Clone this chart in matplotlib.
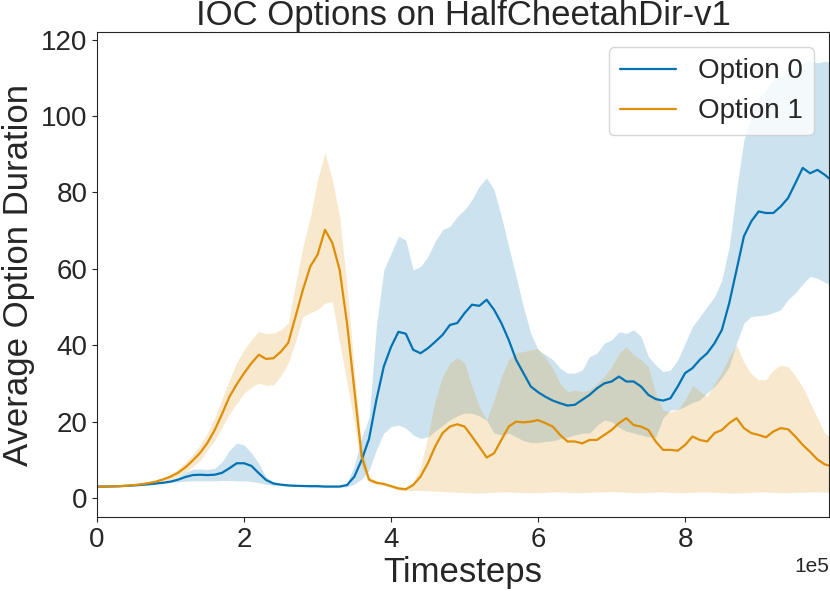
import numpy as np
import matplotlib
matplotlib.use("Agg")
import matplotlib.pyplot as plt
import seaborn as sns

# timesteps in units of 1e5, one sample every 1e4 steps
steps = np.arange(101) / 10.0

opt0_mean = [3.0, 3.0, 3.05, 3.1, 3.2, 3.3, 3.45, 3.6, 3.8, 4.0,
             4.3, 4.8, 5.5, 6.0, 6.1, 6.0, 6.1, 6.6, 7.8, 9.1,
             9.1, 8.4, 6.5, 4.7, 3.8, 3.5, 3.3, 3.2, 3.15, 3.1,
             3.1, 3.0, 3.0, 3.0, 3.4, 5.6, 10.0, 15.5, 25.7, 34.4,
             39.6, 43.5, 43.0, 38.8, 37.9, 39.2, 40.9, 42.7, 45.3, 45.8,
             48.4, 50.6, 50.3, 51.9, 49.3, 45.8, 41.4, 36.2, 32.7, 29.2,
             27.7, 26.5, 25.5, 24.8, 24.2, 24.4, 25.7, 27.0, 28.7, 30.0,
             30.5, 31.8, 30.5, 30.5, 29.2, 27.0, 25.9, 25.5, 26.1, 29.2,
             32.7, 34.0, 36.2, 37.9, 40.5, 44.0, 51.0, 59.7, 68.5, 72.4,
             75.0, 74.6, 74.6, 76.3, 78.5, 82.4, 86.4, 85.0, 85.9, 84.6,
             83.0]
opt0_low = [2.9, 2.9, 2.95, 3.0, 3.1, 3.2, 3.35, 3.5, 3.7, 3.9,
            4.0, 4.2, 4.4, 4.5, 4.5, 4.5, 4.5, 4.6, 4.6, 4.5,
            4.5, 4.3, 4.0, 3.6, 3.3, 3.2, 3.1, 3.0, 3.0, 2.95,
            2.9, 2.85, 2.85, 2.85, 2.9, 3.6, 5.0, 7.3, 12.6, 17.0,
            18.7, 19.1, 18.3, 16.5, 15.6, 16.0, 17.5, 19.0, 20.5, 21.5,
            22.2, 22.2, 21.5, 20.4, 17.0, 16.5, 17.0, 16.0, 15.0, 14.5,
            14.5, 14.8, 15.0, 15.5, 16.0, 16.5, 17.0, 17.0, 19.0, 20.4,
            20.0, 18.5, 17.5, 17.0, 16.5, 16.0, 16.0, 21.0, 23.0, 23.1,
            24.0, 25.0, 25.7, 27.5, 29.2, 31.5, 34.4, 40.5, 45.8, 47.5,
            47.7, 47.9, 48.5, 49.3, 51.9, 53.7, 56.0, 58.0, 57.5, 56.5,
            55.4]
opt0_high = [3.1, 3.1, 3.15, 3.2, 3.3, 3.4, 3.55, 3.7, 3.9, 4.2,
             4.6, 5.5, 6.8, 7.5, 7.6, 7.5, 7.8, 9.5, 12.5, 14.4,
             13.9, 11.8, 9.0, 5.5, 4.2, 3.8, 3.5, 3.4, 3.3, 3.25,
             3.2, 3.1, 3.1, 3.15, 4.0, 8.5, 16.0, 21.0, 45.0, 59.7,
             64.1, 68.5, 67.5, 59.7, 60.6, 63.2, 67.2, 70.2, 71.1, 73.7,
             75.5, 78.1, 81.6, 83.8, 80.7, 73.7, 65.8, 58.0, 50.1, 43.1,
             38.8, 37.5, 36.2, 34.0, 32.7, 32.7, 33.5, 37.0, 37.9, 40.5,
             41.4, 43.5, 43.1, 44.0, 42.3, 37.0, 34.8, 33.1, 33.5, 36.2,
             40.5, 44.9, 47.5, 50.1, 52.7, 57.1, 65.8, 80.7, 93.8, 99.9,
             104.3, 106.9, 109.5, 110.0, 111.3, 112.1, 113.9, 114.3, 113.9, 114.3,
             114.0]

opt1_mean = [3.0, 3.0, 3.05, 3.1, 3.2, 3.4, 3.6, 3.9, 4.3, 4.9,
             5.6, 6.6, 8.0, 9.8, 11.8, 14.4, 17.8, 22.0, 26.5, 29.8,
             32.7, 35.3, 37.5, 36.4, 36.6, 38.3, 40.6, 47.5, 54.5, 60.6,
             63.7, 70.2, 66.8, 59.7, 45.8, 28.3, 10.8, 4.8, 4.0, 3.7,
             3.1, 2.5, 2.3, 3.4, 5.6, 9.1, 13.5, 17.0, 18.7, 19.3,
             18.7, 16.1, 13.4, 10.6, 11.7, 15.2, 18.7, 20.0, 19.8, 20.0,
             20.4, 19.6, 18.7, 16.5, 14.8, 14.8, 14.3, 15.2, 15.2, 16.5,
             17.8, 19.6, 20.9, 19.1, 18.7, 17.8, 14.8, 12.6, 12.6, 12.4,
             13.9, 16.1, 15.2, 14.8, 17.0, 17.8, 19.6, 20.9, 18.3, 17.0,
             16.5, 15.9, 17.4, 18.3, 18.0, 16.1, 13.9, 12.1, 10.1, 8.8,
             8.3]
opt1_low = [2.9, 2.9, 2.95, 3.0, 3.1, 3.25, 3.45, 3.7, 4.0, 4.4,
            4.8, 5.6, 6.8, 8.2, 9.8, 12.6, 15.0, 18.5, 22.0, 24.8,
            27.5, 29.0, 30.1, 29.5, 29.6, 32.0, 35.3, 41.0, 47.5, 48.5,
            49.3, 51.0, 51.4, 40.6, 30.1, 19.6, 8.2, 4.2, 3.6, 3.3,
            2.7, 2.1, 1.9, 2.0, 2.0, 1.9, 1.8, 1.7, 1.6, 1.5,
            1.4, 1.3, 1.3, 1.4, 1.5, 1.6, 1.6, 1.5, 1.4, 1.4,
            1.4, 1.5, 1.6, 1.6, 1.5, 1.4, 1.4, 1.5, 1.6, 1.6,
            1.7, 1.6, 1.5, 1.4, 1.4, 1.5, 1.6, 1.6, 1.5, 1.4,
            1.4, 1.5, 1.6, 1.6, 1.5, 1.4, 1.3, 1.3, 1.4, 1.5,
            1.6, 1.6, 1.5, 1.4, 1.4, 1.5, 1.5, 1.6, 1.6, 1.5,
            1.5]
opt1_high = [3.1, 3.1, 3.15, 3.2, 3.35, 3.55, 3.8, 4.15, 4.6, 5.3,
             6.2, 7.6, 9.3, 11.4, 13.8, 17.0, 21.0, 26.0, 31.0, 35.5,
             38.8, 41.5, 43.6, 43.0, 43.2, 44.0, 45.8, 56.0, 65.8, 73.5,
             83.3, 90.4, 83.3, 73.7, 55.4, 33.5, 13.4, 5.5, 4.5, 4.1,
             3.6, 3.0, 2.8, 4.2, 8.0, 16.0, 25.7, 31.8, 35.3, 36.8,
             35.3, 29.2, 23.9, 20.4, 25.7, 31.8, 36.2, 38.1, 38.3, 38.8,
             39.2, 36.6, 34.0, 30.0, 27.8, 28.3, 27.8, 28.3, 30.0, 31.8,
             34.4, 37.9, 39.6, 37.5, 36.2, 34.4, 27.4, 23.0, 22.5, 23.1,
             25.7, 29.5, 28.0, 26.5, 30.0, 33.0, 37.0, 40.0, 35.5, 32.5,
             30.9, 31.0, 33.5, 34.8, 34.4, 32.0, 29.0, 25.0, 21.0, 17.0,
             15.5]

labels = ["Option 0", "Option 1"]
colors = ["#0173B2", "#DE8F05"]

sns.set_style("ticks")
plt.rcParams["font.family"] = ["Liberation Sans", "DejaVu Sans"]

fig = plt.figure(figsize=(8.3, 5.91), dpi=100)
ax = fig.add_axes([0.117, 0.125, 0.882, 0.821])

x = steps * 1e5
series = [(opt0_mean, opt0_low, opt0_high), (opt1_mean, opt1_low, opt1_high)]
for (m, lo, hi), lab, c in zip(series, labels, colors):
    ax.fill_between(x, lo, hi, color=c, alpha=0.2, linewidth=0)
    ax.plot(x, m, color=c, lw=1.6, label=lab)

ax.set_xlim(0, 9.96e5)
ax.set_ylim(-5, 122)
ax.set_xticks([0, 2e5, 4e5, 6e5, 8e5])
ax.set_yticks([0, 20, 40, 60, 80, 100, 120])
ax.ticklabel_format(axis="x", style="sci", scilimits=(0, 0))
ax.tick_params(labelsize=20)
ax.xaxis.get_offset_text().set_fontsize(15)

ax.set_title("IOC Options on HalfCheetahDir-v1", fontsize=25, pad=4)
ax.set_xlabel("Timesteps", fontsize=25, labelpad=2)
ax.set_ylabel("Average Option Duration", fontsize=25)
ax.legend(loc="upper right", fontsize=20, bbox_to_anchor=(0.998, 0.997))

fig.savefig("out.png", dpi=100)
